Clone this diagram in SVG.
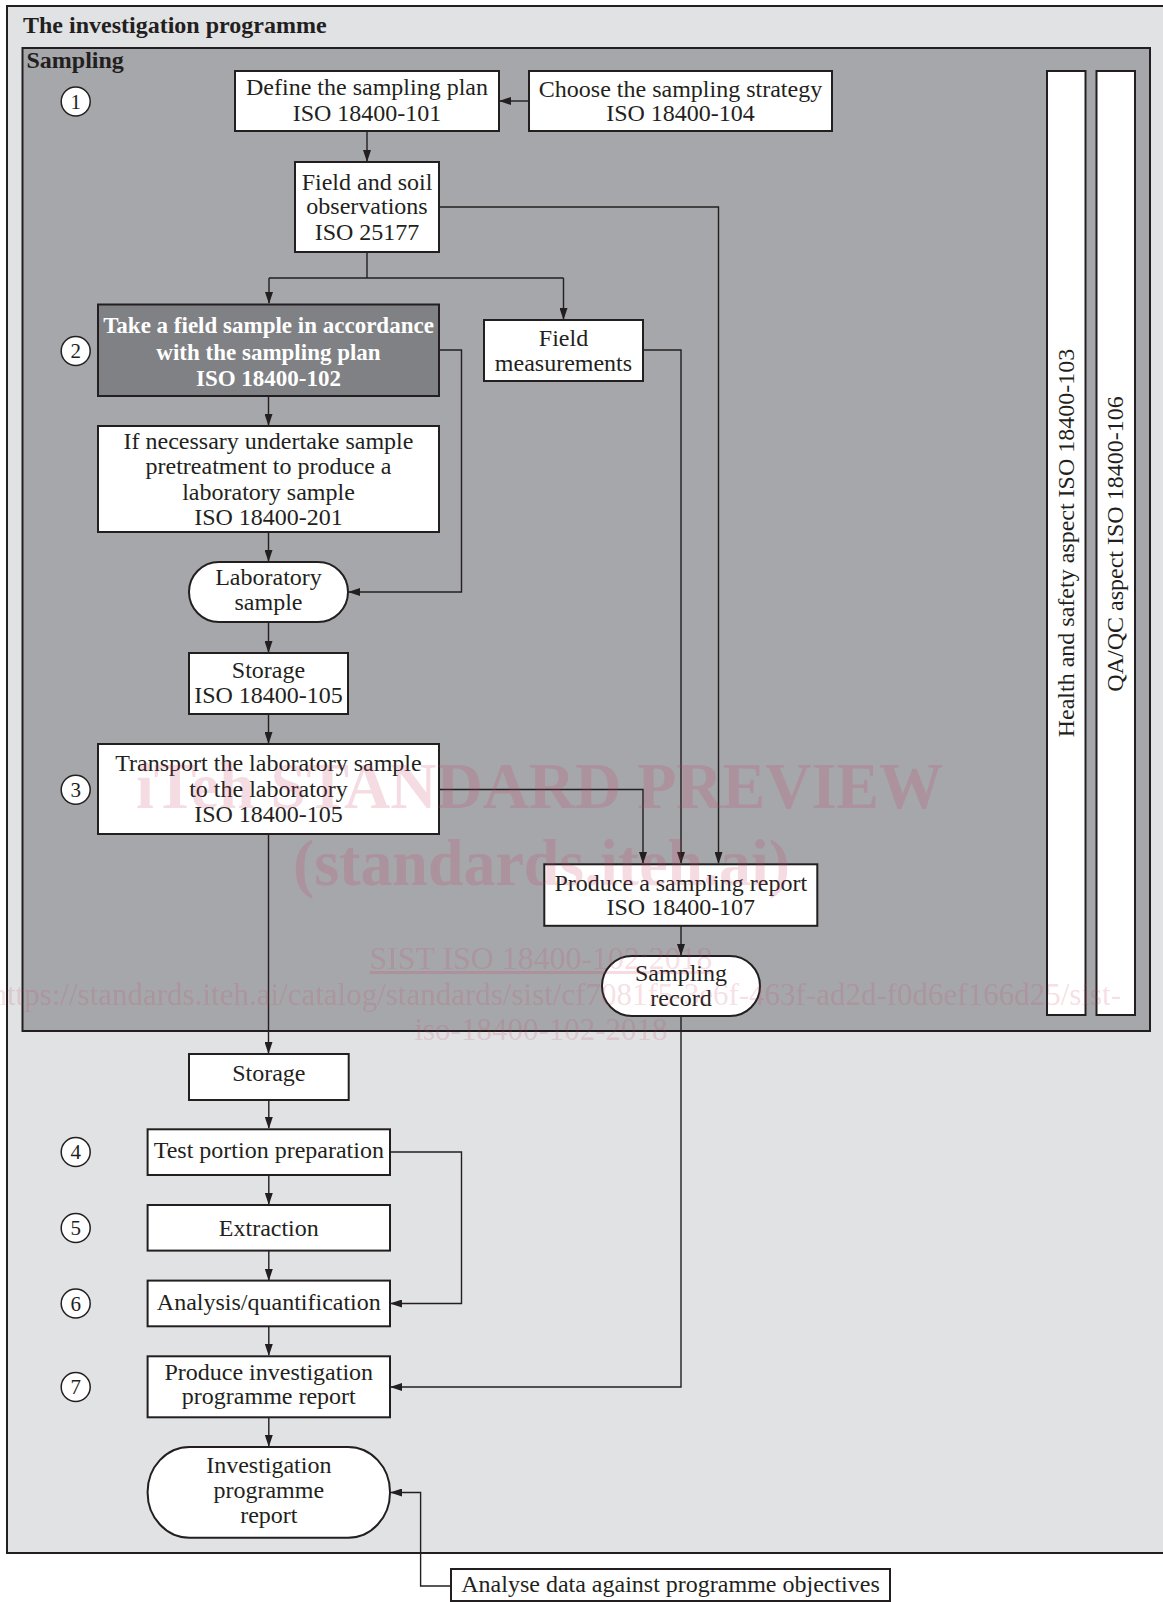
<svg xmlns="http://www.w3.org/2000/svg" width="1163" height="1602" viewBox="0 0 1163 1602">
<style>
.box{fill:#ffffff;stroke:#231f20;stroke-width:2}
.dark{fill:#808184;stroke:#231f20;stroke-width:2}
.t{font-family:"Liberation Serif","Times New Roman",serif;font-size:24px;fill:#231f20;text-anchor:middle}
.tw{font-family:"Liberation Serif","Times New Roman",serif;font-size:23px;font-weight:bold;fill:#ffffff;text-anchor:middle}
.h{font-family:"Liberation Serif","Times New Roman",serif;font-size:24px;font-weight:bold;fill:#231f20}
.num{font-family:"Liberation Serif","Times New Roman",serif;font-size:21px;fill:#231f20;text-anchor:middle}
.circ{fill:#ffffff;stroke:#231f20;stroke-width:1.5}
.c{fill:none;stroke:#231f20;stroke-width:1.4}
.wm{font-family:"Liberation Serif","Times New Roman",serif;fill:#c8385e;fill-opacity:0.18}
</style>
<defs>
<marker id="ah" markerWidth="12" markerHeight="8" refX="11" refY="4" orient="auto" markerUnits="userSpaceOnUse">
<path d="M0,0 L12,4 L0,8 Z" fill="#231f20"/>
</marker>
</defs>

<g id="frame-programme">
<rect x="7" y="6" width="1175" height="1547" fill="#e1e2e4" stroke="#231f20" stroke-width="2"/>
<text class="h" x="23" y="33">The investigation programme</text>
</g>
<g id="frame-sampling">
<rect x="22.5" y="48" width="1127.5" height="983" fill="#a6a7aa" stroke="#231f20" stroke-width="2"/>
<text class="h" x="26.5" y="68">Sampling</text>
</g>

<g id="connectors">
<path class="c" d="M529,101 H500" marker-end="url(#ah)"/>
<path class="c" d="M367,131 V161" marker-end="url(#ah)"/>
<path class="c" d="M439,207 H718.5 V863" marker-end="url(#ah)"/>
<path class="c" d="M367,252 V278 M269,278 H563.5"/>
<path class="c" d="M269,278 V303" marker-end="url(#ah)"/>
<path class="c" d="M563.5,278 V319" marker-end="url(#ah)"/>
<path class="c" d="M643,350 H681 V863" marker-end="url(#ah)"/>
<path class="c" d="M439,350 H461.5 V592 H349" marker-end="url(#ah)"/>
<path class="c" d="M268.5,396 V425" marker-end="url(#ah)"/>
<path class="c" d="M268.5,532 V561" marker-end="url(#ah)"/>
<path class="c" d="M268.5,622 V652" marker-end="url(#ah)"/>
<path class="c" d="M268.5,714 V743" marker-end="url(#ah)"/>
<path class="c" d="M439,789.5 H643 V863" marker-end="url(#ah)"/>
<path class="c" d="M268.5,834 V1053" marker-end="url(#ah)"/>
<path class="c" d="M681,926 V955" marker-end="url(#ah)"/>
<path class="c" d="M681,1016 V1387 H391" marker-end="url(#ah)"/>
<path class="c" d="M268.8,1100 V1128" marker-end="url(#ah)"/>
<path class="c" d="M268.8,1175 V1204" marker-end="url(#ah)"/>
<path class="c" d="M268.8,1251 V1280" marker-end="url(#ah)"/>
<path class="c" d="M390,1152 H461.5 V1303.5 H391" marker-end="url(#ah)"/>
<path class="c" d="M268.8,1326 V1355" marker-end="url(#ah)"/>
<path class="c" d="M268.8,1417 V1446" marker-end="url(#ah)"/>
<path class="c" d="M451,1586 H420.6 V1492.5 H391" marker-end="url(#ah)"/>
</g>

<g id="step-numbers">
<circle class="circ" cx="75.7" cy="101.5" r="14.5"/><text class="num" x="75.7" y="108.5">1</text>
<circle class="circ" cx="75.7" cy="351" r="14.5"/><text class="num" x="75.7" y="358">2</text>
<circle class="circ" cx="75.7" cy="789.7" r="14.5"/><text class="num" x="75.7" y="796.7">3</text>
<circle class="circ" cx="75.7" cy="1152" r="14.5"/><text class="num" x="75.7" y="1159">4</text>
<circle class="circ" cx="75.7" cy="1228" r="14.5"/><text class="num" x="75.7" y="1235">5</text>
<circle class="circ" cx="75.7" cy="1303.5" r="14.5"/><text class="num" x="75.7" y="1310.5">6</text>
<circle class="circ" cx="75.7" cy="1387" r="14.5"/><text class="num" x="75.7" y="1394">7</text>
</g>

<g id="define-plan">
<rect class="box" x="235" y="71" width="264" height="60"/>
<text class="t" x="367" y="94.5">Define the sampling plan</text>
<text class="t" x="367" y="120.5">ISO 18400-101</text>
</g>
<g id="choose-strategy">
<rect class="box" x="529" y="71" width="303" height="60"/>
<text class="t" x="680.5" y="96.5">Choose the sampling strategy</text>
<text class="t" x="680.5" y="121">ISO 18400-104</text>
</g>
<g id="field-soil">
<rect class="box" x="295" y="162" width="144" height="90"/>
<text class="t" x="367" y="189.5">Field and soil</text>
<text class="t" x="367" y="214">observations</text>
<text class="t" x="367" y="240">ISO 25177</text>
</g>
<g id="take-sample">
<rect class="dark" x="98" y="304.5" width="341" height="91.5"/>
<text class="tw" x="268.5" y="333">Take a field sample in accordance</text>
<text class="tw" x="268.5" y="359.5">with the sampling plan</text>
<text class="tw" x="268.5" y="386">ISO 18400-102</text>
</g>
<g id="field-measurements">
<rect class="box" x="484" y="320" width="159" height="61"/>
<text class="t" x="563.5" y="346">Field</text>
<text class="t" x="563.5" y="370.5">measurements</text>
</g>
<g id="pretreatment">
<rect class="box" x="98" y="426" width="341" height="106"/>
<text class="t" x="268.5" y="449">If necessary undertake sample</text>
<text class="t" x="268.5" y="474">pretreatment to produce a</text>
<text class="t" x="268.5" y="499.5">laboratory sample</text>
<text class="t" x="268.5" y="525">ISO 18400-201</text>
</g>
<g id="laboratory-sample">
<rect class="box" x="189" y="562" width="159" height="60" rx="30" ry="30"/>
<text class="t" x="268.5" y="585">Laboratory</text>
<text class="t" x="268.5" y="610">sample</text>
</g>
<g id="storage-1">
<rect class="box" x="189" y="653" width="159" height="61"/>
<text class="t" x="268.5" y="677.5">Storage</text>
<text class="t" x="268.5" y="703">ISO 18400-105</text>
</g>
<g id="transport">
<rect class="box" x="98" y="744" width="341" height="90"/>
<text class="t" x="268.5" y="770.5">Transport the laboratory sample</text>
<text class="t" x="268.5" y="796.5">to the laboratory</text>
<text class="t" x="268.5" y="821.5">ISO 18400-105</text>
</g>
<g id="sampling-report">
<rect class="box" x="544.3" y="864.3" width="273" height="61.5"/>
<text class="t" x="680.8" y="890.5">Produce a sampling report</text>
<text class="t" x="680.8" y="915">ISO 18400-107</text>
</g>
<g id="sampling-record">
<rect class="box" x="602" y="956" width="158" height="60" rx="30" ry="30"/>
<text class="t" x="681" y="981">Sampling</text>
<text class="t" x="681" y="1006">record</text>
</g>
<g id="health-safety">
<rect class="box" x="1047" y="71" width="38.5" height="944"/>
<text class="t" font-size="23" transform="translate(1073.5,543) rotate(-90)" x="0" y="0">Health and safety aspect ISO 18400-103</text>
</g>
<g id="qa-qc">
<rect class="box" x="1096.5" y="71" width="38.5" height="944"/>
<text class="t" font-size="23" transform="translate(1123,544) rotate(-90)" x="0" y="0">QA/QC aspect ISO 18400-106</text>
</g>

<g id="storage-2">
<rect class="box" x="189" y="1054" width="159.7" height="46"/>
<text class="t" x="268.8" y="1081">Storage</text>
</g>
<g id="test-portion">
<rect class="box" x="147.6" y="1129.3" width="242.4" height="45.7"/>
<text class="t" x="268.8" y="1158">Test portion preparation</text>
</g>
<g id="extraction">
<rect class="box" x="147.6" y="1205" width="242.4" height="45.6"/>
<text class="t" x="268.8" y="1236">Extraction</text>
</g>
<g id="analysis">
<rect class="box" x="147.6" y="1280.6" width="242.4" height="45.7"/>
<text class="t" x="268.8" y="1310">Analysis/quantification</text>
</g>
<g id="produce-investigation-report">
<rect class="box" x="147.6" y="1356.3" width="242.4" height="61"/>
<text class="t" x="268.8" y="1379.5">Produce investigation</text>
<text class="t" x="268.8" y="1404">programme report</text>
</g>
<g id="investigation-report">
<rect class="box" x="147.6" y="1447" width="242.4" height="90.7" rx="42" ry="45"/>
<text class="t" x="268.8" y="1473">Investigation</text>
<text class="t" x="268.8" y="1498">programme</text>
<text class="t" x="268.8" y="1522.5">report</text>
</g>
<g id="analyse-data">
<rect class="box" x="451" y="1569" width="439" height="32"/>
<text class="t" x="670.5" y="1592">Analyse data against programme objectives</text>
</g>

<g id="watermark">
<text class="wm" x="539.5" y="808" font-size="66" font-weight="bold" text-anchor="middle" textLength="807" lengthAdjust="spacingAndGlyphs">iTeh STANDARD PREVIEW</text>
<text class="wm" x="541.5" y="885" font-size="66" font-weight="bold" text-anchor="middle" textLength="497" lengthAdjust="spacingAndGlyphs">(standards.iteh.ai)</text>
<text class="wm" x="541" y="969" font-size="31" text-anchor="middle" textLength="343" lengthAdjust="spacingAndGlyphs" text-decoration="underline">SIST ISO 18400-102:2018</text>
<text class="wm" x="1121" y="1005" font-size="31" text-anchor="end">https://standards.iteh.ai/catalog/standards/sist/cf7081f5-3e6f-463f-ad2d-f0d6ef166d25/sist-</text>
<text class="wm" x="541" y="1040" font-size="31" text-anchor="middle">iso-18400-102-2018</text>
</g>
</svg>
